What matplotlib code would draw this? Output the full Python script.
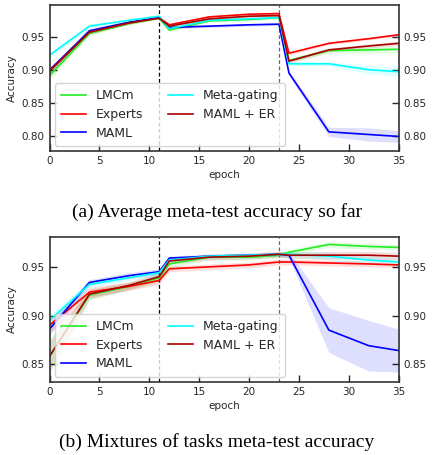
import matplotlib
matplotlib.use("Agg")
import matplotlib.pyplot as plt
import numpy as np

epochs = [0, 4, 8, 11, 12, 16, 20, 23, 24, 28, 32, 35]
series = ["LMCm", "Experts", "MAML", "Meta-gating", "MAML + ER"]
colors = ["#22ee22", "#ff0000", "#0000ff", "#00ffff", "#aa0000"]

# (a) average meta-test accuracy so far
avg_lmcm = [0.892, 0.956, 0.971, 0.979, 0.961, 0.975, 0.977, 0.980, 0.915, 0.930, 0.931, 0.932]
avg_experts = [0.900, 0.958, 0.972, 0.980, 0.969, 0.981, 0.985, 0.986, 0.926, 0.941, 0.948, 0.954]
avg_maml = [0.900, 0.960, 0.973, 0.980, 0.965, 0.967, 0.969, 0.970, 0.896, 0.807, 0.803, 0.800]
avg_metagating = [0.923, 0.967, 0.976, 0.982, 0.963, 0.976, 0.978, 0.980, 0.910, 0.910, 0.901, 0.898]
avg_mamler = [0.899, 0.958, 0.972, 0.979, 0.967, 0.978, 0.982, 0.983, 0.914, 0.931, 0.937, 0.941]
avg_std = [
    [0.006, 0.003, 0.002, 0.001, 0.002, 0.002, 0.002, 0.002, 0.003, 0.004, 0.005, 0.005],
    [0.004, 0.003, 0.002, 0.001, 0.002, 0.002, 0.002, 0.002, 0.003, 0.002, 0.002, 0.002],
    [0.004, 0.003, 0.002, 0.001, 0.002, 0.002, 0.002, 0.002, 0.004, 0.007, 0.010, 0.009],
    [0.004, 0.003, 0.002, 0.001, 0.002, 0.002, 0.002, 0.002, 0.003, 0.003, 0.006, 0.007],
    [0.006, 0.003, 0.002, 0.001, 0.002, 0.002, 0.002, 0.002, 0.003, 0.003, 0.003, 0.003],
]

# (b) mixtures of tasks meta-test accuracy
mix_lmcm = [0.858, 0.921, 0.930, 0.939, 0.953, 0.960, 0.960, 0.962, 0.965, 0.973, 0.971, 0.970]
mix_experts = [0.890, 0.924, 0.930, 0.936, 0.948, 0.950, 0.952, 0.955, 0.955, 0.954, 0.953, 0.952]
mix_maml = [0.886, 0.934, 0.941, 0.945, 0.959, 0.961, 0.962, 0.963, 0.962, 0.885, 0.869, 0.864]
mix_metagating = [0.895, 0.932, 0.939, 0.944, 0.957, 0.961, 0.962, 0.963, 0.963, 0.961, 0.957, 0.955]
mix_mamler = [0.858, 0.922, 0.931, 0.940, 0.956, 0.960, 0.961, 0.963, 0.962, 0.962, 0.962, 0.961]
mix_std = [
    [0.018, 0.005, 0.004, 0.004, 0.004, 0.003, 0.003, 0.003, 0.003, 0.003, 0.003, 0.003],
    [0.008, 0.005, 0.004, 0.004, 0.003, 0.003, 0.003, 0.003, 0.003, 0.003, 0.003, 0.003],
    [0.006, 0.003, 0.003, 0.003, 0.002, 0.002, 0.002, 0.002, 0.003, 0.023, 0.026, 0.022],
    [0.006, 0.004, 0.003, 0.003, 0.002, 0.002, 0.002, 0.002, 0.003, 0.004, 0.004, 0.004],
    [0.015, 0.005, 0.004, 0.004, 0.003, 0.003, 0.003, 0.003, 0.003, 0.004, 0.004, 0.004],
]

avg_vals = [avg_lmcm, avg_experts, avg_maml, avg_metagating, avg_mamler]
mix_vals = [mix_lmcm, mix_experts, mix_maml, mix_metagating, mix_mamler]

TEXT = "#262626"
plt.rcParams["font.family"] = "DejaVu Sans"

fig = plt.figure(figsize=(4.34, 4.55), dpi=100)
W, H = 434, 455


def add_ax(left, top, right, bottom):
    return fig.add_axes([left / W, 1 - bottom / H, (right - left) / W, (bottom - top) / H])


def draw(ax, vals, stds, ylim, yticks):
    x = np.array(epochs)
    for name, col, v, s in zip(series, colors, vals, stds):
        v = np.array(v)
        s = np.array(s)
        ax.fill_between(x, v - s, v + s, color=col, alpha=0.13, lw=0)
        ax.plot(x, v, color=col, lw=1.2, label=name)
    ax.axvline(11, color="black", ls=(0, (3, 2)), lw=0.9, zorder=1)
    ax.axvline(23, color="dimgray", ls=(0, (3, 2)), lw=0.9, zorder=1)
    ax.set_xlim(0, 35)
    ax.set_ylim(*ylim)
    ax.set_xticks([0, 5, 10, 15, 20, 25, 30, 35])
    ax.set_yticks(yticks)
    ax.set_yticklabels([f"{t:.2f}" for t in yticks])
    ax.tick_params(axis="both", direction="in", length=5, width=1, labelsize=7.5,
                   colors=TEXT, left=True, right=True, labelleft=True, labelright=True)
    for sp in ax.spines.values():
        sp.set_color("#333333")
        sp.set_linewidth(1.2)
    ax.set_xlabel("epoch", fontsize=7.5, color=TEXT, labelpad=3)
    ax.set_ylabel("Accuracy", fontsize=7.5, color=TEXT, labelpad=3)
    leg = ax.legend(loc="lower left", ncol=2, fontsize=9, frameon=True,
                    borderaxespad=0.4, columnspacing=2.0, handlelength=2.0,
                    handletextpad=0.8, labelspacing=0.45, borderpad=0.5)
    leg.get_frame().set_edgecolor("#cccccc")
    for t in leg.get_texts():
        t.set_color(TEXT)


ax1 = add_ax(49.5, 5, 398.7, 151)
draw(ax1, avg_vals, avg_std, (0.778, 0.999), [0.80, 0.85, 0.90, 0.95])

ax2 = add_ax(49.5, 236.7, 398.7, 381.7)
draw(ax2, mix_vals, mix_std, (0.832, 0.981), [0.85, 0.90, 0.95])

fig.text(0.5, 1 - 212 / H, "(a) Average meta-test accuracy so far",
         ha="center", va="center", family="Liberation Serif", fontsize=14)
fig.text(0.5, 1 - 442 / H, "(b) Mixtures of tasks meta-test accuracy",
         ha="center", va="center", family="Liberation Serif", fontsize=14)

fig.savefig("out.png", dpi=100)
